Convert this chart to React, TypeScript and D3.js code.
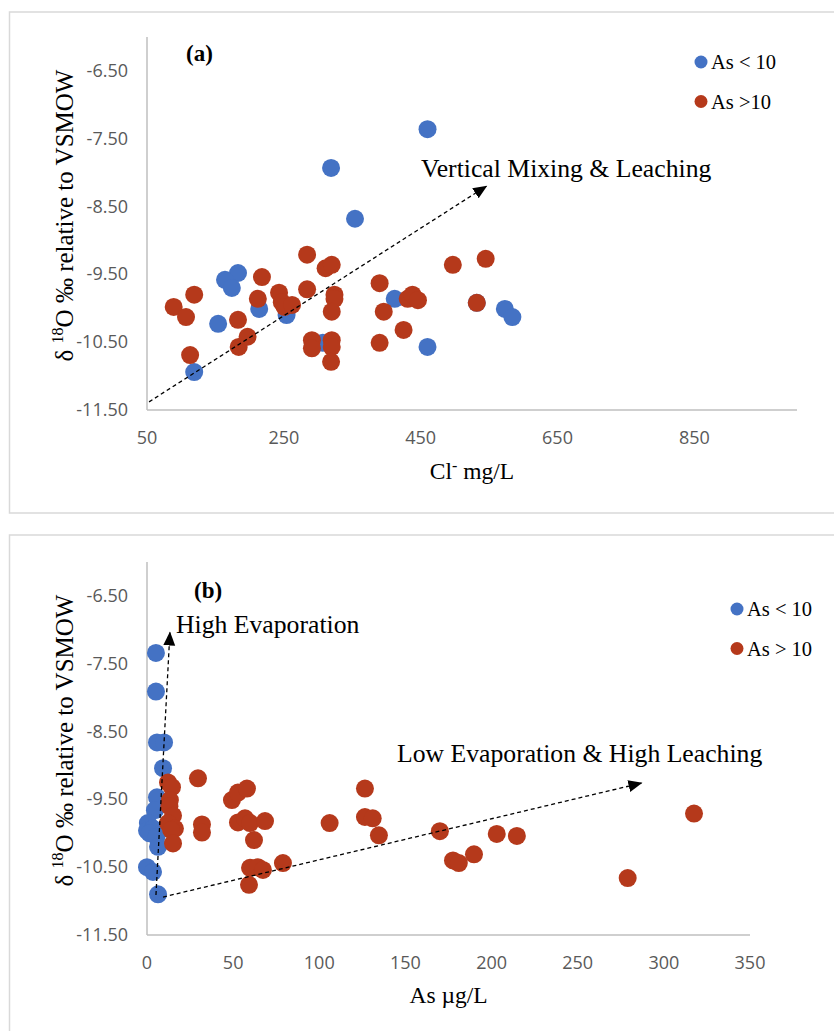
import React from "react";
import * as d3 from "d3";

// ---------- DATA ----------
// Panel (a): Cl- mg/L vs δ18O
const clBlue: [number, number][] = [
  [460, -7.36], [319, -7.93], [354, -8.68], [183, -9.48], [164, -9.58], [174, -9.7],
  [214, -10.01], [154, -10.23], [254, -10.1], [412, -9.86], [307, -10.51], [460, -10.57],
  [119, -10.94], [573, -10.01], [584, -10.13], [532, -9.92],
];
const clRed: [number, number][] = [
  [89, -9.98], [107, -10.13], [119, -9.8], [113, -10.69], [183, -10.17], [184, -10.57],
  [197, -10.42], [212, -9.86], [218, -9.54], [243, -9.77], [247, -9.91], [251, -9.98],
  [262, -9.95], [284, -9.21], [284, -9.72], [291, -10.47], [291, -10.59], [311, -9.41],
  [320, -9.36], [324, -9.8], [324, -9.86], [320, -10.05], [320, -10.47], [320, -10.57],
  [319, -10.79], [390, -9.63], [396, -10.05], [390, -10.51], [425, -10.32], [431, -9.86],
  [438, -9.8], [446, -9.88], [497, -9.36], [545, -9.27], [532, -9.92],
];
// Panel (b): As µg/L vs δ18O
const asBlue: [number, number][] = [
  [5.2, -7.34], [5.2, -7.91], [5.8, -8.66], [9.9, -8.66], [9.3, -9.04], [5.8, -9.47],
  [4.6, -9.66], [0.5, -9.85], [0, -9.96], [3.5, -9.93], [1.5, -10.0], [5.5, -10.05],
  [6.4, -10.2], [0, -10.5], [3.5, -10.57], [6.4, -10.9],
];
const asRed: [number, number][] = [
  [12.2, -9.25], [14.5, -9.32], [13.3, -9.51], [13, -9.6], [15.1, -9.74], [12.2, -9.85],
  [16.2, -9.93], [14, -9.95], [15.1, -10.15], [29.6, -9.19], [31.9, -9.87], [31.9, -9.99],
  [49.3, -9.51], [52.8, -9.4], [58, -9.34], [52.8, -9.84], [56.9, -9.78], [59.8, -9.85],
  [68.5, -9.82], [62.1, -10.1], [59.8, -10.51], [64.4, -10.5], [67.3, -10.54], [59.2, -10.76],
  [78.9, -10.44], [106, -9.85], [126.5, -9.34], [126.5, -9.76], [131, -9.78], [134.6, -10.03],
  [170, -9.97], [177.6, -10.4], [181, -10.44], [189.8, -10.31], [203, -10.01], [214.7, -10.04],
  [279, -10.66], [317.5, -9.71],
];

const yTicks = [-11.5, -10.5, -9.5, -8.5, -7.5, -6.5];
const clTicks = [50, 250, 450, 650, 850];
const asTicks = [0, 50, 100, 150, 200, 250, 300, 350];

// Annotation arrows (data units): [x1, y1, x2, y2]
const arrowA: [number, number, number, number][] = [[53, -11.38, 546, -8.2]];
const arrowB: [number, number, number, number][] = [
  [5.2, -10.91, 13.3, -7.04],
  [9.3, -10.94, 287, -9.26],
];

const BLUE = "#4472C4";
const RED = "#B5391B";
const SERIF = "'Liberation Serif', 'Times New Roman', serif";
const SANS = "'Open Sans', 'Noto Sans', sans-serif";

type PanelProps = {
  top: number;
  bottom: number;
  xDomain: [number, number];
  xRange: [number, number];
  xTicks: number[];
  blue: [number, number][];
  red: [number, number][];
  arrows: [number, number, number, number][];
  markerId: string;
  frameY: number;
  frameH: number;
  tag: string;
  tagPos: [number, number];
  xTitle: React.ReactNode;
  xTitleY: number;
  legend: [string, string];
  legendPos: [number, number];
  notes: { text: string; x: number; y: number }[];
};

function Panel(p: PanelProps) {
  const x = d3.scaleLinear().domain(p.xDomain).range(p.xRange);
  const y = d3.scaleLinear().domain([-11.5, -6.0]).range([p.bottom, p.top]);
  const r = 9;
  const plotMidY = (p.top + p.bottom) / 2;
  return (
    <g>
      <rect x={9.5} y={p.frameY} width={840} height={p.frameH} fill="#fff" stroke="#D9D9D9" strokeWidth={1.5} />
      <line x1={x.range()[0]} x2={x.range()[0]} y1={p.top} y2={p.bottom} stroke="#BFBFBF" strokeWidth={1.5} />
      <line x1={x.range()[0]} x2={x.range()[1]} y1={p.bottom} y2={p.bottom} stroke="#BFBFBF" strokeWidth={1.5} />
      {yTicks.map((t) => (
        <text key={"y" + t} x={128} y={y(t) + 6} textAnchor="end" fontFamily={SANS} fontSize={18} fill="#595959">
          {d3.format(".2f")(t).replace("−", "-")}
        </text>
      ))}
      {p.xTicks.map((t) => (
        <text key={"x" + t} x={x(t)} y={p.bottom + 34} textAnchor="middle" fontFamily={SANS} fontSize={18} fill="#595959">
          {t}
        </text>
      ))}
      <text
        transform={`translate(73,${plotMidY - 8}) rotate(-90)`}
        textAnchor="middle"
        fontFamily={SERIF}
        fontSize={25}
        fill="#000"
      >
        δ <tspan fontSize={16} dy={-10}>18</tspan>
        <tspan dy={10}>O ‰ relative to VSMOW</tspan>
      </text>
      <text x={(x.range()[0] + x.range()[1]) / 2} y={p.xTitleY} textAnchor="middle" fontFamily={SERIF} fontSize={23.5} fill="#000">
        {p.xTitle}
      </text>
      {p.blue.map((d, i) => (
        <circle key={"b" + i} cx={x(d[0])} cy={y(d[1])} r={r} fill={BLUE} />
      ))}
      {p.red.map((d, i) => (
        <circle key={"r" + i} cx={x(d[0])} cy={y(d[1])} r={r} fill={RED} />
      ))}
      <defs>
        <marker id={p.markerId} markerUnits="userSpaceOnUse" markerWidth={15} markerHeight={13} refX={13} refY={6} orient="auto">
          <path d="M0,0 L14,6 L0,12 z" fill="#000" />
        </marker>
      </defs>
      {p.arrows.map((a, i) => (
        <line
          key={"a" + i}
          x1={x(a[0])}
          y1={y(a[1])}
          x2={x(a[2])}
          y2={y(a[3])}
          stroke="#000"
          strokeWidth={1.3}
          strokeDasharray="4,3"
          markerEnd={`url(#${p.markerId})`}
        />
      ))}
      {p.notes.map((n, i) => (
        <text key={"n" + i} x={n.x} y={n.y} fontFamily={SERIF} fontSize={25.7} fill="#000">
          {n.text}
        </text>
      ))}
      <text x={p.tagPos[0]} y={p.tagPos[1]} fontFamily={SERIF} fontWeight="bold" fontSize={23} fill="#000">
        {p.tag}
      </text>
      {p.legend.map((l, i) => (
        <g key={"l" + i}>
          <circle cx={p.legendPos[0]} cy={p.legendPos[1] + i * 39.5} r={6.5} fill={i === 0 ? BLUE : RED} />
          <text x={p.legendPos[0] + 10} y={p.legendPos[1] + i * 39.5 + 7} fontFamily={SERIF} fontSize={20.5} fill="#000">
            {l}
          </text>
        </g>
      ))}
    </g>
  );
}

export default function App() {
  return (
    <svg width={834} height={1031} style={{ position: "absolute", left: 0, top: 0, background: "#fff" }}>
      <rect width={834} height={1031} fill="#fff" />
      <Panel
        top={37}
        bottom={410}
        xDomain={[50, 1000]}
        xRange={[147, 797]}
        xTicks={clTicks}
        blue={clBlue}
        red={clRed}
        arrows={arrowA}
        markerId="arrA"
        frameY={12}
        frameH={501}
        tag="(a)"
        tagPos={[186, 61]}
        xTitle={
          <>
            Cl<tspan fontSize={16} dy={-8}>-</tspan>
            <tspan dy={8}> mg/L</tspan>
          </>
        }
        xTitleY={479}
        legend={["As < 10", "As >10"]}
        legendPos={[701, 62]}
        notes={[{ text: "Vertical Mixing & Leaching", x: 421, y: 177 }]}
      />
      <Panel
        top={562}
        bottom={935}
        xDomain={[0, 350]}
        xRange={[147, 750]}
        xTicks={asTicks}
        blue={asBlue}
        red={asRed}
        arrows={arrowB}
        markerId="arrB"
        frameY={535}
        frameH={520}
        tag="(b)"
        tagPos={[194, 598]}
        xTitle="As µg/L"
        xTitleY={1003}
        legend={["As < 10", "As > 10"]}
        legendPos={[737, 609]}
        notes={[
          { text: "High Evaporation", x: 176, y: 633 },
          { text: "Low Evaporation & High Leaching", x: 397, y: 762 },
        ]}
      />
    </svg>
  );
}
